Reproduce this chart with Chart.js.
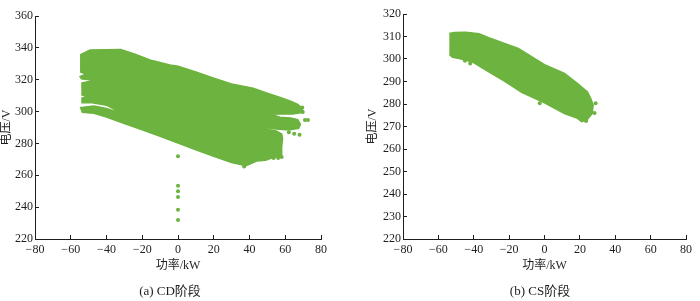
<!DOCTYPE html>
<html>
<head>
<meta charset="utf-8">
<script src="https://cdn.jsdelivr.net/npm/chart.js@4"></script>
<style>
  body { margin: 0; background: #fff; }
  #wrap { position: relative; width: 700px; height: 301px; }
  canvas { position: absolute; top: 0; }
  .cap { position: absolute; top: 280px; width: 200px; line-height: 18px; text-align: center;
         font: 13px "Liberation Serif", "Noto Sans CJK SC", serif; color: #1e1e1e; }
</style>
</head>
<body>
<div id="wrap">
  <canvas id="cd" width="350" height="301" style="left:0"></canvas>
  <canvas id="cs" width="350" height="301" style="left:350px"></canvas>
  <div class="cap" style="left:70px">(a) CD阶段</div>
  <div class="cap" style="left:440px">(b) CS阶段</div>
</div>
<script>
// axis ticks
const xTicks = [-80, -60, -40, -20, 0, 20, 40, 60, 80];
const cdYTicks = [220, 240, 260, 280, 300, 320, 340, 360];
const csYTicks = [220, 230, 240, 250, 260, 270, 280, 290, 300, 310, 320];

// CD stage: outline of the dense point cloud (power kW, voltage V)
const cdCloudPower = [-54.8, -49.2, -32, -24, -15.7, -4.5, 0, 10, 20, 30, 42, 50, 58, 63, 67, 69.5, 70, 64, 57, 52,
  57, 63, 67, 68.5, 67.5, 62, 55, 42, 30, 42, 55, 58, 58.5, 58, 58, 54, 49, 44, 38, 30, 20, 10, 0, -10, -20, -30, -40,
  -47, -53.5, -54.5, -47, -40, -31, -40, -48, -53.5, -53.7, -51, -53.7, -53.7, -46.4, -54, -54.8, -51.6, -54.8];
const cdCloudVoltage = [335.5, 338.7, 339, 336, 332.4, 329.2, 328.5, 324.8, 321, 317.3, 314.6, 311.5, 308.5, 306.5,
  304.5, 302, 299.5, 298.5, 298.5, 298.3, 296.5, 296, 295, 292, 289.5, 288.5, 289, 291, 293, 290.3, 287.8, 286, 283,
  278, 271.5, 271.5, 269.5, 269, 266, 268, 272, 276, 280.3, 284.4, 288.5, 292.5, 296.5, 299, 299.5, 302.5, 303.5,
  302, 298.5, 304, 305.5, 305.5, 308.5, 309.5, 310.5, 318, 319.5, 320.5, 322, 323.5, 325];
// CD stage: isolated points
const cdDotPower = [0, 0, 0, 0, 0, 0, 71, 72.7, 69.8, 69.5, 62, 65, 68, 53.5, 56, 58, 37];
const cdDotVoltage = [272, 253.5, 250, 246.3, 238.3, 232, 294.7, 294.7, 299.8, 302.5, 287, 286, 285.5, 270.9, 270.9,
  271.5, 265.5];

// CS stage: outline of the point cloud
const csCloudPower = [-53.8, -51, -44.5, -37, -31.5, -14.8, 0, 11.3, 18.7, 24.3, 26.1, 27.5, 27, 24, 21, 18.7, 11.3,
  0, -12.9, -22.2, -31.5, -40.8, -48.2, -52, -53.8];
const csCloudVoltage = [311.3, 311.8, 311.9, 311.2, 309.5, 304.7, 297.5, 293.6, 289.1, 285.4, 282.5, 279.5, 275.8,
  273, 272.2, 273.6, 275.8, 280.5, 285.2, 290, 294.3, 298.7, 300.2, 300.8, 302];
// CS stage: isolated points
const csDotPower = [28.9, 28.3, 23.5, -2.7, -45, -42];
const csDotVoltage = [280.3, 276, 272.5, 280.3, 299.2, 298];

const green = '#6cb33f';
const ink = '#1e1e1e';
const tickFont = { family: '"Liberation Serif", serif', size: 12 };
const titleFont = { family: '"Liberation Serif", "Noto Sans CJK SC", serif', size: 12 };

function pairs(xs, ys) {
  return xs.map((x, i) => ({ x: x, y: ys[i] }));
}

function minus(v) {
  return v < 0 ? '\u2212' + Math.abs(v) : String(v);
}

function drawPanel(id, cloud, dots, yTicks, pad, yWidth) {
  new Chart(document.getElementById(id), {
    type: 'scatter',
    data: {
      datasets: [
        { data: cloud, showLine: true, fill: 'shape', tension: 0, borderColor: green, backgroundColor: green,
          borderWidth: 1.5, pointRadius: 0 },
        { data: dots, pointRadius: 2, pointBackgroundColor: green, pointBorderWidth: 0 }
      ]
    },
    options: {
      responsive: false,
      animation: false,
      layout: { padding: pad },
      plugins: { legend: { display: false }, tooltip: { enabled: false } },
      scales: {
        x: {
          type: 'linear', min: xTicks[0], max: xTicks[xTicks.length - 1],
          afterBuildTicks: s => { s.ticks = xTicks.map(v => ({ value: v })); },
          afterFit: s => { s.height = 34; },
          ticks: { callback: minus, font: tickFont, color: ink, padding: 8, maxRotation: 0, autoSkip: false },
          grid: { drawOnChartArea: false, tickLength: -4, color: ink },
          border: { color: ink },
          title: { display: true, text: '功率/kW', font: titleFont, color: ink, padding: 0 }
        },
        y: {
          type: 'linear', min: yTicks[0], max: yTicks[yTicks.length - 1],
          afterBuildTicks: s => { s.ticks = yTicks.map(v => ({ value: v })); },
          afterFit: s => { s.width = yWidth; },
          ticks: { font: tickFont, color: ink, padding: 6, autoSkip: false },
          grid: { drawOnChartArea: false, tickLength: -4, color: ink },
          border: { color: ink },
          title: { display: true, text: '电压/V', font: titleFont, color: ink, padding: 0 }
        }
      }
    }
  });
}

drawPanel('cd', pairs(cdCloudPower, cdCloudVoltage), pairs(cdDotPower, cdDotVoltage), cdYTicks,
  { left: 0, top: 16, right: 29, bottom: 28 }, 35);
drawPanel('cs', pairs(csCloudPower, csCloudVoltage), pairs(csDotPower, csDotVoltage), csYTicks,
  { left: 16, top: 14, right: 10, bottom: 28 }, 37);
</script>
</body>
</html>
